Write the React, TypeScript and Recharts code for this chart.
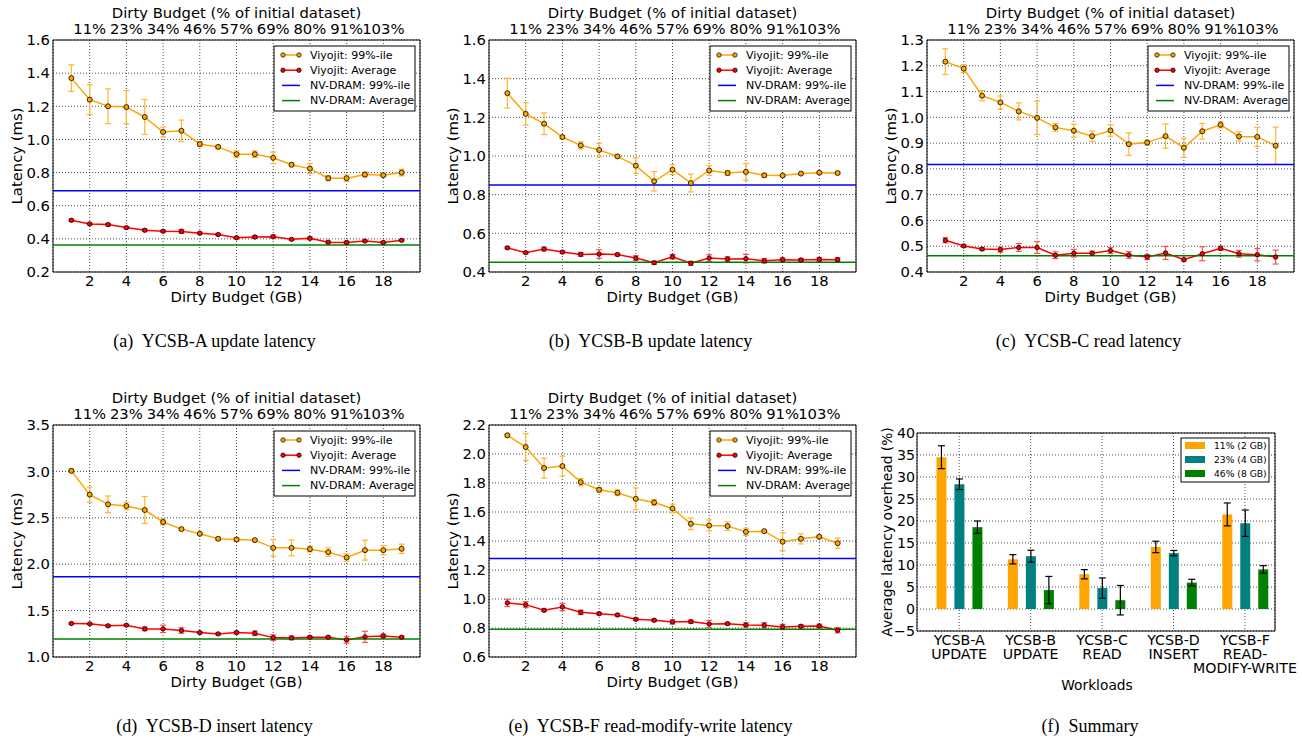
import {
  Bar,
  CartesianGrid,
  ComposedChart,
  ErrorBar,
  Line,
  ReferenceArea,
  ReferenceLine,
  XAxis,
  YAxis,
} from "recharts";

const SANS = "'DejaVu Sans', sans-serif";
const SERIF = "'Liberation Serif', 'Times New Roman', serif";

// dirty budget in GB, and the top axis labels (% of initial dataset)
const budgets = [1, 2, 3, 4, 5, 6, 7, 8, 9, 10, 11, 12, 13, 14, 15, 16, 17, 18, 19];
const budgetTicks = [2, 4, 6, 8, 10, 12, 14, 16, 18];
const pctLabels = ["11%", "23%", "34%", "46%", "57%", "69%", "80%", "91%", "103%"];

// (a) YCSB-A update
const aP99 = [1.37, 1.24, 1.2, 1.195, 1.135, 1.045, 1.052, 0.972, 0.955, 0.911, 0.911, 0.889, 0.847, 0.824, 0.766, 0.766, 0.788, 0.784, 0.8];
const aP99Err = [0.08, 0.09, 0.105, 0.1, 0.105, 0.03, 0.065, 0.015, 0.01, 0.02, 0.02, 0.035, 0.01, 0.03, 0.015, 0.02, 0.015, 0.008, 0.02];
const aAvg = [0.512, 0.49, 0.486, 0.468, 0.452, 0.446, 0.445, 0.434, 0.426, 0.407, 0.411, 0.413, 0.397, 0.403, 0.38, 0.378, 0.387, 0.378, 0.391];
const aAvgErr = [0.006, 0.006, 0.008, 0.006, 0.008, 0.006, 0.012, 0.006, 0.006, 0.006, 0.008, 0.01, 0.005, 0.008, 0.006, 0.008, 0.006, 0.006, 0.005];
const aNv99 = 0.69;
const aNvAvg = 0.363;

// (b) YCSB-B update
const bP99 = [1.325, 1.218, 1.167, 1.098, 1.055, 1.031, 0.998, 0.95, 0.869, 0.929, 0.86, 0.925, 0.912, 0.918, 0.9, 0.899, 0.909, 0.914, 0.912];
const bP99Err = [0.077, 0.058, 0.056, 0.008, 0.018, 0.035, 0.005, 0.04, 0.05, 0.025, 0.046, 0.025, 0.012, 0.043, 0.01, 0.005, 0.005, 0.005, 0.005];
const bAvg = [0.525, 0.5, 0.519, 0.503, 0.491, 0.493, 0.49, 0.472, 0.448, 0.479, 0.445, 0.472, 0.467, 0.469, 0.458, 0.464, 0.462, 0.465, 0.464];
const bAvgErr = [0.005, 0.005, 0.01, 0.006, 0.01, 0.022, 0.007, 0.012, 0.008, 0.012, 0.01, 0.017, 0.012, 0.022, 0.012, 0.008, 0.008, 0.01, 0.01];
const bNv99 = 0.85;
const bNvAvg = 0.45;

// (c) YCSB-C read
const cP99 = [1.216, 1.189, 1.084, 1.058, 1.023, 0.998, 0.961, 0.948, 0.927, 0.949, 0.896, 0.902, 0.927, 0.882, 0.946, 0.971, 0.926, 0.924, 0.89];
const cP99Err = [0.05, 0.015, 0.02, 0.025, 0.033, 0.065, 0.015, 0.025, 0.02, 0.022, 0.044, 0.01, 0.047, 0.037, 0.03, 0.012, 0.018, 0.037, 0.072];
const cAvg = [0.523, 0.501, 0.489, 0.487, 0.495, 0.495, 0.465, 0.473, 0.473, 0.483, 0.466, 0.458, 0.474, 0.448, 0.471, 0.492, 0.471, 0.467, 0.458];
const cAvgErr = [0.01, 0.005, 0.005, 0.01, 0.015, 0.023, 0.013, 0.015, 0.008, 0.012, 0.013, 0.01, 0.025, 0.005, 0.027, 0.008, 0.013, 0.024, 0.027];
const cNv99 = 0.817;
const cNvAvg = 0.463;

// (d) YCSB-D insert
const dP99 = [3.006, 2.75, 2.645, 2.627, 2.584, 2.454, 2.378, 2.328, 2.274, 2.266, 2.259, 2.176, 2.176, 2.162, 2.13, 2.072, 2.151, 2.151, 2.166];
const dP99Err = [0.02, 0.08, 0.09, 0.04, 0.145, 0.03, 0.01, 0.01, 0.015, 0.02, 0.01, 0.09, 0.085, 0.03, 0.045, 0.04, 0.107, 0.05, 0.05];
const dAvg = [1.361, 1.357, 1.336, 1.343, 1.303, 1.303, 1.285, 1.263, 1.249, 1.263, 1.256, 1.209, 1.206, 1.213, 1.213, 1.184, 1.217, 1.227, 1.213];
const dAvgErr = [0.008, 0.008, 0.01, 0.008, 0.02, 0.04, 0.03, 0.01, 0.01, 0.015, 0.025, 0.03, 0.02, 0.01, 0.01, 0.035, 0.06, 0.02, 0.01];
const dNv99 = 1.865;
const dNvAvg = 1.195;

// (e) YCSB-F read-modify-write
const eP99 = [2.129, 2.048, 1.903, 1.917, 1.806, 1.753, 1.733, 1.691, 1.666, 1.624, 1.519, 1.507, 1.503, 1.463, 1.468, 1.395, 1.415, 1.429, 1.385];
const eP99Err = [0.01, 0.092, 0.069, 0.068, 0.025, 0.015, 0.02, 0.075, 0.02, 0.03, 0.04, 0.038, 0.03, 0.025, 0.005, 0.062, 0.035, 0.01, 0.035];
const eAvg = [0.973, 0.961, 0.922, 0.945, 0.908, 0.899, 0.89, 0.86, 0.853, 0.842, 0.844, 0.828, 0.83, 0.821, 0.819, 0.807, 0.812, 0.814, 0.784];
const eAvgErr = [0.025, 0.02, 0.008, 0.025, 0.015, 0.008, 0.008, 0.008, 0.008, 0.015, 0.01, 0.025, 0.008, 0.015, 0.018, 0.018, 0.01, 0.012, 0.018];
const eNv99 = 1.279;
const eNvAvg = 0.791;

// (f) summary: average latency overhead (%)
const workloads = ["YCSB-A\nUPDATE", "YCSB-B\nUPDATE", "YCSB-C\nREAD", "YCSB-D\nINSERT", "YCSB-F\nREAD-\nMODIFY-WRITE"];
const workloadPos = [0, 1, 2, 3, 4];
const ovh2 = [34.5, 11.3, 7.9, 14.1, 21.5];
const ovh2Err = [2.6, 1.05, 1.05, 1.3, 2.6];
const ovh4 = [28.35, 12.0, 4.75, 12.7, 19.5];
const ovh4Err = [1.2, 1.35, 2.3, 0.6, 3.0];
const ovh8 = [18.6, 4.3, 2.0, 6.0, 9.0];
const ovh8Err = [1.4, 3.1, 3.35, 0.75, 0.85];
const overheadTicks = [-5, 0, 5, 10, 15, 20, 25, 30, 35, 40];
const summaryLegend = ["11% (2 GB)", "23% (4 GB)", "46% (8 GB)"];

const ORANGE = "#FFA500";
const RED = "#FF0000";
const BLUE = "#0000FF";
const GREEN = "#008000";
const TEAL = "#008080";

type LatencyPanel = {
  x: number;
  y: number;
  p99: number[];
  p99Err: number[];
  avg: number[];
  avgErr: number[];
  nv99: number;
  nvAvg: number;
  yDomain: [number, number];
  yTicks: number[];
  caption: string;
};

const panels: LatencyPanel[] = [
  { x: 53, y: 40, p99: aP99, p99Err: aP99Err, avg: aAvg, avgErr: aAvgErr, nv99: aNv99, nvAvg: aNvAvg, yDomain: [0.2, 1.6], yTicks: [0.2, 0.4, 0.6, 0.8, 1.0, 1.2, 1.4, 1.6], caption: "(a)  YCSB-A update latency" },
  { x: 489, y: 40, p99: bP99, p99Err: bP99Err, avg: bAvg, avgErr: bAvgErr, nv99: bNv99, nvAvg: bNvAvg, yDomain: [0.4, 1.6], yTicks: [0.4, 0.6, 0.8, 1.0, 1.2, 1.4, 1.6], caption: "(b)  YCSB-B update latency" },
  { x: 927, y: 40, p99: cP99, p99Err: cP99Err, avg: cAvg, avgErr: cAvgErr, nv99: cNv99, nvAvg: cNvAvg, yDomain: [0.4, 1.3], yTicks: [0.4, 0.5, 0.6, 0.7, 0.8, 0.9, 1.0, 1.1, 1.2, 1.3], caption: "(c)  YCSB-C read latency" },
  { x: 53, y: 425, p99: dP99, p99Err: dP99Err, avg: dAvg, avgErr: dAvgErr, nv99: dNv99, nvAvg: dNvAvg, yDomain: [1.0, 3.5], yTicks: [1.0, 1.5, 2.0, 2.5, 3.0, 3.5], caption: "(d)  YCSB-D insert latency" },
  { x: 489, y: 425, p99: eP99, p99Err: eP99Err, avg: eAvg, avgErr: eAvgErr, nv99: eNv99, nvAvg: eNvAvg, yDomain: [0.6, 2.2], yTicks: [0.6, 0.8, 1.0, 1.2, 1.4, 1.6, 1.8, 2.0, 2.2], caption: "(e)  YCSB-F read-modify-write latency" },
];

const PW = 367;
const PH = 232;
const ML = 53;
const MT = 40;
const MR = 10;
const MB = 30;
const FONT = 14.8;

const tickStyle = { fontSize: FONT, fill: "#000", fontFamily: SANS };

function LatencyChart({ p }: { p: LatencyPanel }) {
  const data = budgets.map((b, i) => ({
    b,
    p99: p.p99[i],
    p99Err: p.p99Err[i],
    avg: p.avg[i],
    avgErr: p.avgErr[i],
  }));

  return (
    <div style={{ position: "absolute", left: p.x - ML, top: p.y - MT }}>
      <ComposedChart
        width={ML + PW + MR}
        height={MT + PH + MB}
        data={data}
        margin={{ top: MT - 30, right: MR, bottom: MB - 20, left: ML - 40 }}
      >
        <CartesianGrid xAxisId="b" yAxisId="l" stroke="#000" strokeDasharray="1 2" strokeWidth={0.7} />
        <XAxis
          xAxisId="b"
          dataKey="b"
          type="number"
          domain={[0, 20]}
          ticks={budgetTicks}
          interval={0}
          height={20}
          axisLine={false}
          tickLine={false}
          tickSize={0}
          tickMargin={3}
          tick={tickStyle}
          allowDataOverflow
        />
        <XAxis
          xAxisId="t"
          orientation="top"
          dataKey="b"
          type="number"
          domain={[0, 20]}
          ticks={budgetTicks}
          interval={0}
          height={30}
          axisLine={false}
          tickLine={false}
          tickSize={0}
          tickMargin={6}
          tick={tickStyle}
          tickFormatter={(v: number) => pctLabels[budgetTicks.indexOf(v)] ?? ""}
          allowDataOverflow
        />
        <YAxis
          yAxisId="l"
          type="number"
          domain={p.yDomain}
          ticks={p.yTicks}
          interval={0}
          width={40}
          axisLine={false}
          tickLine={false}
          tickSize={0}
          tickMargin={3}
          tick={tickStyle}
          tickFormatter={(v: number) => v.toFixed(1)}
          allowDataOverflow
        />
        <Line
          xAxisId="b"
          yAxisId="l"
          dataKey="p99"
          stroke={ORANGE}
          strokeWidth={1.5}
          dot={{ r: 2.5, fill: ORANGE, stroke: "#000", strokeWidth: 0.8 }}
          isAnimationActive={false}
        >
          <ErrorBar dataKey="p99Err" width={3} stroke="#FFB52E" strokeWidth={1.2} direction="y" />
        </Line>
        <Line
          xAxisId="b"
          yAxisId="l"
          dataKey="avg"
          stroke={RED}
          strokeWidth={1.5}
          dot={{ r: 2.2, fill: RED, stroke: "#000", strokeWidth: 0.8 }}
          isAnimationActive={false}
        >
          <ErrorBar dataKey="avgErr" width={3} stroke="#FF5050" strokeWidth={1.2} direction="y" />
        </Line>
        <ReferenceLine xAxisId="b" yAxisId="l" y={p.nv99} stroke={BLUE} strokeWidth={1.5} />
        <ReferenceLine xAxisId="b" yAxisId="l" y={p.nvAvg} stroke={GREEN} strokeWidth={1.5} />
        <ReferenceArea
          xAxisId="b"
          yAxisId="l"
          x1={0}
          x2={20}
          y1={p.yDomain[0]}
          y2={p.yDomain[1]}
          fill="none"
          stroke="#000"
          strokeWidth={1}
        />
      </ComposedChart>
    </div>
  );
}

function LatencyLegend({ p }: { p: LatencyPanel }) {
  const bx = p.x + PW - 5 - 141;
  const by = p.y + 6;
  const rows = [
    { label: "Viyojit: 99%-ile", color: ORANGE, dot: true },
    { label: "Viyojit: Average", color: RED, dot: true },
    { label: "NV-DRAM: 99%-ile", color: BLUE, dot: false },
    { label: "NV-DRAM: Average", color: GREEN, dot: false },
  ];
  return (
    <g>
      <rect x={bx} y={by} width={141} height={65} fill="#fff" stroke="#000" strokeWidth={1} />
      {rows.map((r, k) => {
        const ry = by + 9 + k * 15.2;
        return (
          <g key={r.label}>
            <line x1={bx + 8} x2={bx + 26} y1={ry} y2={ry} stroke={r.color} strokeWidth={1.5} />
            {r.dot && <circle cx={bx + 9} cy={ry} r={2.2} fill={r.color} stroke="#000" strokeWidth={0.7} />}
            {r.dot && <circle cx={bx + 25} cy={ry} r={2.2} fill={r.color} stroke="#000" strokeWidth={0.7} />}
            <text x={bx + 36} y={ry} dominantBaseline="central" fontSize={11} fontFamily={SANS}>
              {r.label}
            </text>
          </g>
        );
      })}
    </g>
  );
}

const FX = 917;
const FY = 433;
const FW = 358;
const FH = 198;

function WorkloadTick(props: any) {
  const { x, y, payload } = props;
  const lines = (workloads[payload.value] ?? "").split("\n");
  return (
    <text x={x} y={y} textAnchor="middle" fontSize={14.2} fontFamily={SANS} fill="#000">
      {lines.map((l, k) => (
        <tspan key={k} x={x} dy={14}>
          {l}
        </tspan>
      ))}
    </text>
  );
}

function SummaryChart() {
  const data = workloadPos.map((i) => ({
    i,
    o2: ovh2[i],
    o2Err: ovh2Err[i],
    o4: ovh4[i],
    o4Err: ovh4Err[i],
    o8: ovh8[i],
    o8Err: ovh8Err[i],
  }));
  return (
    <div style={{ position: "absolute", left: FX - 45, top: FY - 10 }}>
      <ComposedChart
        width={45 + FW + 27}
        height={10 + FH + 60}
        data={data}
        barGap={8}
        margin={{ top: 10, right: 27, bottom: 5, left: 15 }}
      >
        <CartesianGrid xAxisId="x" yAxisId="y" stroke="#000" strokeDasharray="1 2" strokeWidth={0.7} />
        <XAxis
          xAxisId="x"
          dataKey="i"
          type="number"
          domain={[-0.59, 4.42]}
          ticks={workloadPos}
          interval={0}
          height={55}
          axisLine={false}
          tickLine={false}
          tickSize={0}
          tickMargin={0}
          tick={(t: any) => <WorkloadTick {...t} />}
          allowDataOverflow
        />
        <YAxis
          yAxisId="y"
          type="number"
          domain={[-5, 40]}
          ticks={overheadTicks}
          interval={0}
          width={30}
          axisLine={false}
          tickLine={false}
          tickSize={0}
          tickMargin={2}
          tick={{ fontSize: 14.2, fill: "#000", fontFamily: SANS }}
          tickFormatter={(v: number) => (v < 0 ? `\u2212${-v}` : `${v}`)}
          allowDataOverflow
        />
        <Bar xAxisId="x" yAxisId="y" dataKey="o2" fill={ORANGE} barSize={10} isAnimationActive={false}>
          <ErrorBar dataKey="o2Err" width={3.5} stroke="#000" strokeWidth={1.2} direction="y" />
        </Bar>
        <Bar xAxisId="x" yAxisId="y" dataKey="o4" fill={TEAL} barSize={10} isAnimationActive={false}>
          <ErrorBar dataKey="o4Err" width={3.5} stroke="#000" strokeWidth={1.2} direction="y" />
        </Bar>
        <Bar xAxisId="x" yAxisId="y" dataKey="o8" fill={GREEN} barSize={10} isAnimationActive={false}>
          <ErrorBar dataKey="o8Err" width={3.5} stroke="#000" strokeWidth={1.2} direction="y" />
        </Bar>
        <ReferenceArea
          xAxisId="x"
          yAxisId="y"
          x1={-0.59}
          x2={4.42}
          y1={-5}
          y2={40}
          fill="none"
          stroke="#000"
          strokeWidth={1}
        />
      </ComposedChart>
    </div>
  );
}

function Overlay() {
  const summaryColors = [ORANGE, TEAL, GREEN];
  const lx = FX + FW - 6 - 88;
  const ly = FY + 5;
  return (
    <svg
      width={1302}
      height={740}
      style={{ position: "absolute", left: 0, top: 0, pointerEvents: "none" }}
    >
      {panels.map((p) => (
        <g key={p.caption} fontFamily={SANS} fill="#000">
          <text x={p.x + PW / 2} y={p.y - 22} textAnchor="middle" fontSize={FONT}>
            Dirty Budget (% of initial dataset)
          </text>
          <text x={p.x + PW / 2} y={p.y + PH + 30} textAnchor="middle" fontSize={FONT}>
            Dirty Budget (GB)
          </text>
          <text
            transform={`translate(${p.x - 31},${p.y + PH / 2}) rotate(-90)`}
            textAnchor="middle"
            fontSize={FONT}
          >
            Latency (ms)
          </text>
          <text
            x={p.x + PW / 2 - 22}
            y={p.y + 307}
            textAnchor="middle"
            fontSize={18}
            fontFamily={SERIF}
            style={{ whiteSpace: "pre" }}
          >
            {p.caption}
          </text>
          <LatencyLegend p={p} />
        </g>
      ))}
      <g fontFamily={SANS} fill="#000">
        <text transform={`translate(${FX - 25},${FY + FH / 2}) rotate(-90)`} textAnchor="middle" fontSize={13.8}>
          Average latency overhead (%)
        </text>
        <text x={1097} y={690} textAnchor="middle" fontSize={13.8}>
          Workloads
        </text>
        <text x={1090} y={732} textAnchor="middle" fontSize={18} fontFamily={SERIF} style={{ whiteSpace: "pre" }}>
          (f)  Summary
        </text>
        <rect x={lx} y={ly} width={88} height={44} fill="#fff" stroke="#000" strokeWidth={1} />
        {summaryLegend.map((s, k) => (
          <g key={s}>
            <rect x={lx + 4} y={ly + 4 + k * 14} width={20} height={7} fill={summaryColors[k]} />
            <text x={lx + 33} y={ly + 7.5 + k * 14} dominantBaseline="central" fontSize={9.2}>
              {s}
            </text>
          </g>
        ))}
      </g>
    </svg>
  );
}

export default function App() {
  return (
    <div
      style={{
        position: "absolute",
        left: 0,
        top: 0,
        width: 1302,
        height: 740,
        background: "#fff",
        overflow: "hidden",
      }}
    >
      {panels.map((p) => (
        <LatencyChart key={p.caption} p={p} />
      ))}
      <SummaryChart />
      <Overlay />
    </div>
  );
}
